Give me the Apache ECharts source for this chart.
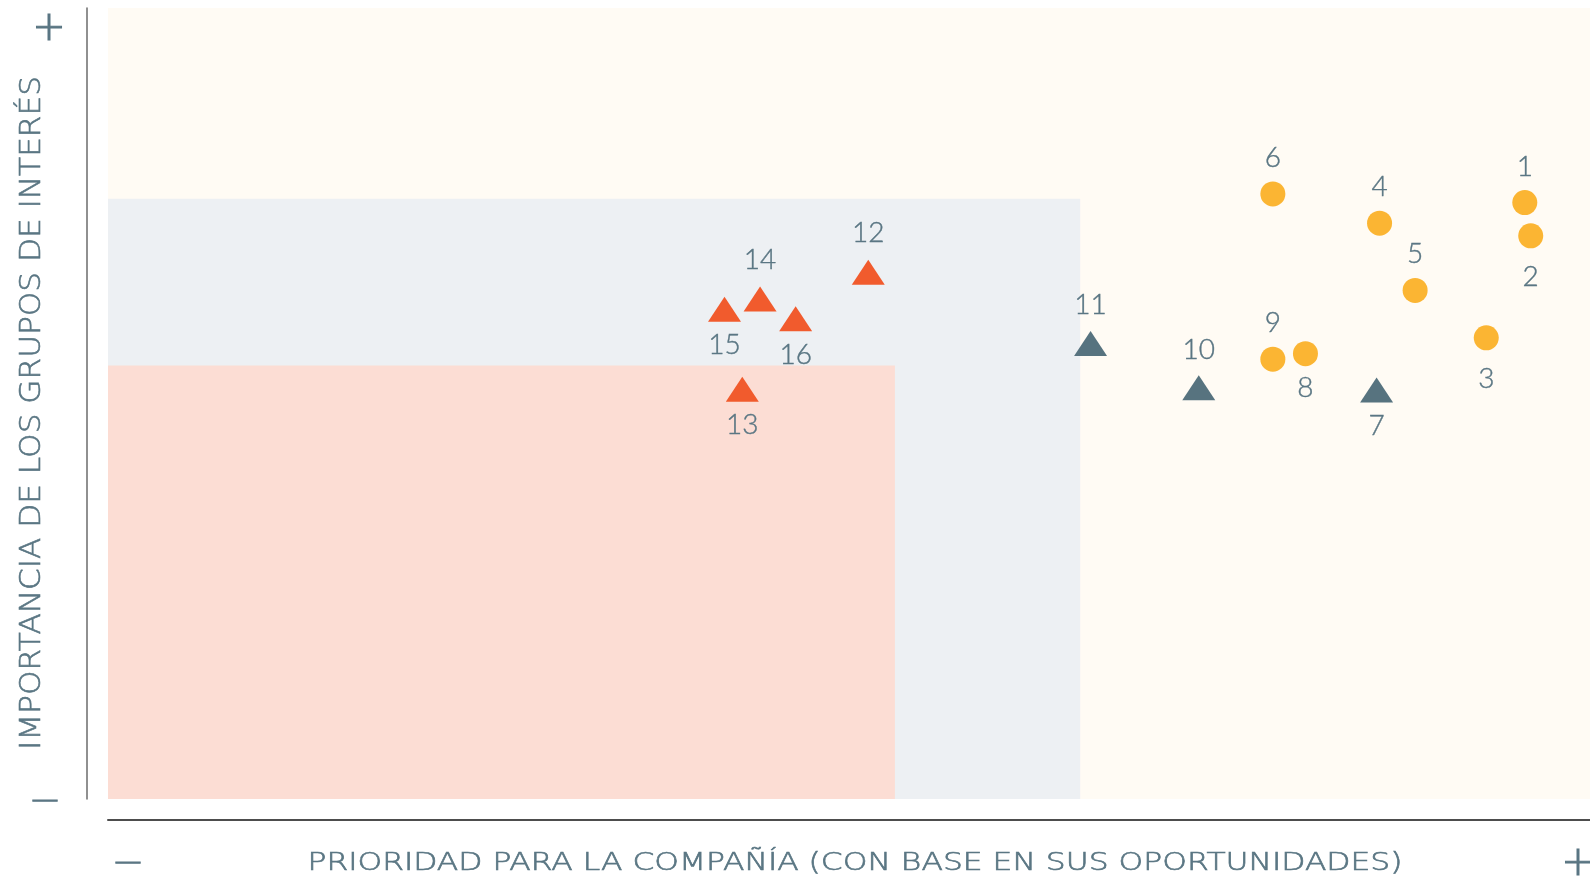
<!DOCTYPE html>
<html>
<head>
<meta charset="utf-8">
<title>Matriz de materialidad</title>
<script src="https://cdn.jsdelivr.net/npm/echarts@6/dist/echarts.min.js"></script>
<style>
html, body { margin: 0; padding: 0; background: #fff; }
#chart { width: 1590px; height: 882px; }
</style>
</head>
<body>
<div id="chart"></div>
<script>
// temas: x = prioridad para la compañía, y = importancia de los grupos de interés (escala 0-100)
const highNames = ['1', '2', '3', '4', '5', '6', '8', '9'];
const highX = [95.6, 96.0, 93.0, 85.8, 88.2, 78.6, 80.8, 78.6];
const highY = [75.4, 71.2, 58.3, 72.8, 64.3, 76.5, 56.3, 55.6];

const midNames = ['7', '10', '11'];
const midX = [85.6, 73.6, 66.3];
const midY = [51.7, 52.0, 57.6];

const lowNames = ['12', '13', '14', '15', '16'];
const lowX = [51.3, 42.8, 44.0, 41.6, 46.4];
const lowY = [66.6, 51.8, 63.2, 61.9, 60.7];

// zonas de fondo, desde el origen hasta [x, y]
const zoneX = [100, 65.6, 53.1];
const zoneY = [100, 75.9, 54.8];

const labelsBelow = ['2', '3', '7', '8', '13', '15', '16'];

const yTitle = 'IMPORTANCIA DE LOS GRUPOS DE INTERÉS';
const xTitle = 'PRIORIDAD PARA LA COMPAÑÍA (CON BASE EN SUS OPORTUNIDADES)';

const textColor = '#5a7683';
const zoneColors = ['#fffbf4', '#edf0f3', '#fcddd4'];
const titleFamily = '"DejaVu Sans"';

let measureCtx = document.createElement('canvas').getContext('2d');
function stretchFor(text, font, target) {
    measureCtx.font = font;
    return target / measureCtx.measureText(text).width;
}

function toPoints(names, xs, ys, above, below) {
    return names.map(function (n, i) {
        let isBelow = labelsBelow.indexOf(n) >= 0;
        let dy = isBelow ? below : above;
        if (n === '8') {
            dy = 34; // queda pegado al 9, la etiqueta sube un poco
        }
        return {
            name: n,
            value: [xs[i], ys[i]],
            label: { offset: [0, dy] }
        };
    });
}

const labelStyle = {
    show: true,
    position: 'inside',
    formatter: '{b}',
    color: textColor,
    fontSize: 28,
    fontFamily: 'Lato',
    fontWeight: 300,
    textBorderColor: textColor,
    textBorderWidth: 0.4
};

function signText(x, y, text, size) {
    return {
        type: 'text', x: x, y: y,
        style: {
            text: text, fill: textColor, stroke: textColor, lineWidth: 1,
            font: '200 ' + size + 'px ' + titleFamily, align: 'center', verticalAlign: 'middle'
        }
    };
}

const yFont = '200 29px ' + titleFamily;
const xFont = '200 24px ' + titleFamily;
const yScale = stretchFor(yTitle, yFont, 674);
const xScale = stretchFor(xTitle, xFont, 1095);

let chart = echarts.init(document.getElementById('chart'));
chart.setOption({
    animation: false,
    grid: { left: 108, right: 0, top: 8, bottom: 83 },
    xAxis: {
        type: 'value', min: 0, max: 100, offset: 21,
        axisLine: { show: true, onZero: false, lineStyle: { color: '#4d4d4d', width: 2 } },
        axisTick: { show: false }, axisLabel: { show: false }, splitLine: { show: false }
    },
    yAxis: {
        type: 'value', min: 0, max: 100, offset: 21,
        axisLine: { show: true, onZero: false, lineStyle: { color: '#6b6b6b', width: 1.5 } },
        axisTick: { show: false }, axisLabel: { show: false }, splitLine: { show: false }
    },
    series: [
        {
            type: 'scatter', data: [], silent: true, z: 1,
            markArea: {
                silent: true,
                data: zoneX.map(function (x, i) {
                    return [
                        { xAxis: 0, yAxis: 0, itemStyle: { color: zoneColors[i], opacity: 1 } },
                        { xAxis: x, yAxis: zoneY[i] }
                    ];
                })
            }
        },
        {
            type: 'scatter', z: 3, symbol: 'circle', symbolSize: 25,
            itemStyle: { color: '#fbb533', opacity: 1 },
            label: labelStyle,
            data: toPoints(highNames, highX, highY, -36, 41)
        },
        {
            type: 'scatter', z: 3, symbol: 'triangle', symbolSize: [33, 25],
            itemStyle: { color: '#57737f', opacity: 1 },
            label: labelStyle,
            data: toPoints(midNames, midX, midY, -38, 36)
        },
        {
            type: 'scatter', z: 3, symbol: 'triangle', symbolSize: [33, 25],
            itemStyle: { color: '#f15b2d', opacity: 1 },
            label: labelStyle,
            data: toPoints(lowNames, lowX, lowY, -39, 36)
        }
    ],
    graphic: [
        {
            type: 'text', x: 32, y: 413, rotation: Math.PI / 2, scaleX: yScale,
            style: {
                text: yTitle, fill: textColor, stroke: textColor, lineWidth: 0.6,
                font: yFont, align: 'center', verticalAlign: 'middle'
            }
        },
        {
            type: 'text', x: 855, y: 864, scaleX: xScale,
            style: {
                text: xTitle, fill: textColor, stroke: textColor, lineWidth: 0.6,
                font: xFont, align: 'center', verticalAlign: 'middle'
            }
        },
        signText(49, 30, '+', 40),
        signText(45, 801, '—', 27),
        signText(128, 863, '—', 27),
        signText(1578, 865, '+', 40)
    ]
});
</script>
</body>
</html>
